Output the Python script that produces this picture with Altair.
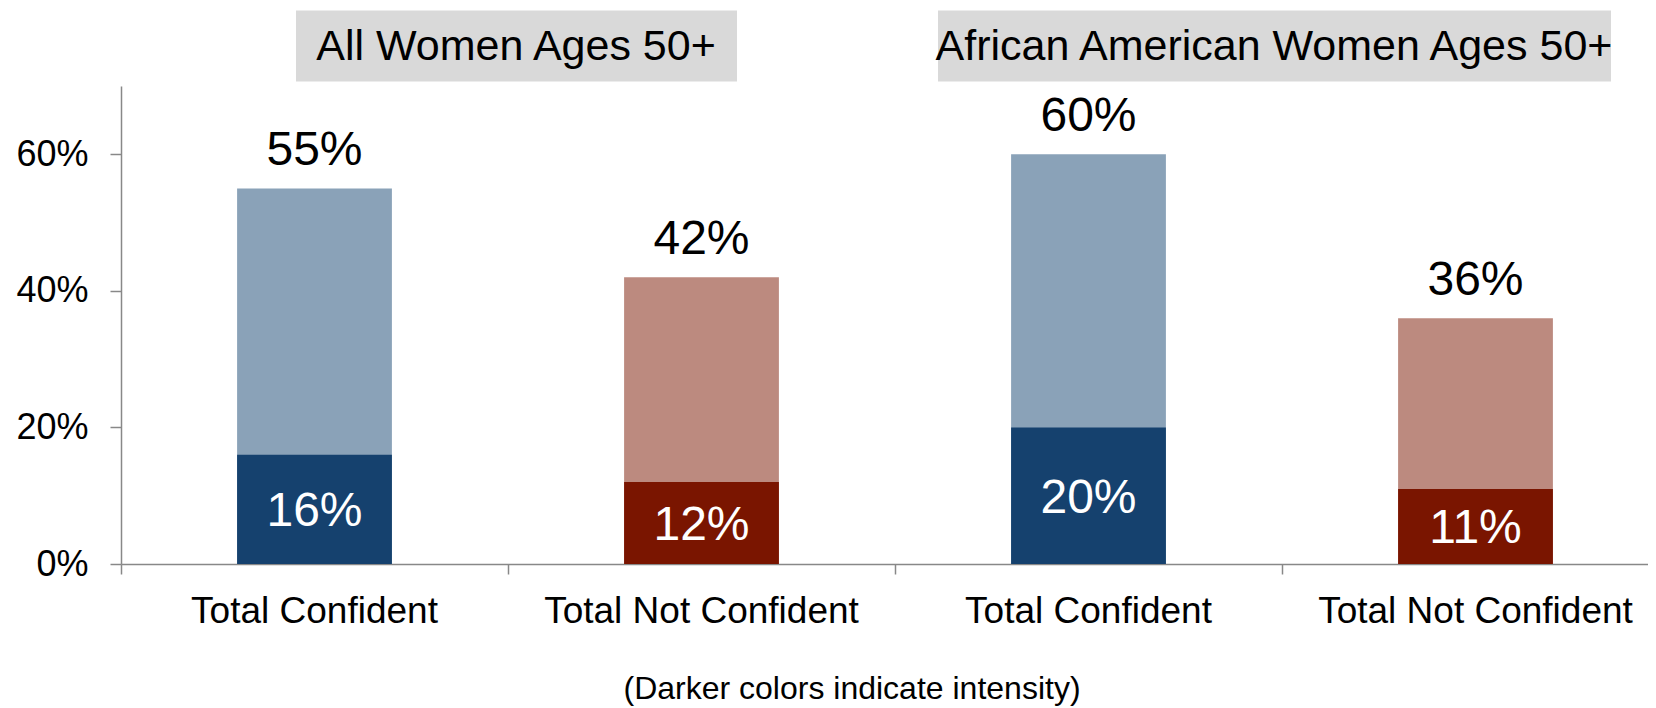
import altair as alt
import pandas as pd

# ---- data ----
groups = ["All Women Ages 50+", "African American Women Ages 50+"]
measures = ["Total Confident", "Total Not Confident"]
total_pct = [55, 42, 60, 36]
intense_pct = [16, 12, 20, 11]
y_ticks = [0, 20, 40, 60]
caption_text = ["(Darker colors indicate intensity)"]

rows = []
i = 0
for g in groups:
    for m in measures:
        rows.append({"key": f"{g}|{m}", "group": g, "measure": m,
                     "total": total_pct[i], "intense": intense_pct[i]})
        i += 1
df = pd.DataFrame(rows)
keys = list(df["key"])

# ---- styling / layout ----
FONT = "Liberation Sans"
AX = "#888888"
LIGHT = ["#8AA2B8", "#BC8A7F"]
DARK = ["#15416E", "#7A1500"]
W, H = 1527, 478
STEP = 387
PAD = {"left": 113, "top": 78, "right": 0, "bottom": 144}

xscale = alt.Scale(domain=keys, range=[0, STEP * len(keys)], paddingInner=0, paddingOuter=0)
yscale = alt.Scale(domain=[0, 70], nice=False)

base = alt.Chart(df)

light = base.mark_bar(width=alt.RelativeBandSize(0.4)).encode(
    x=alt.X("key:N", scale=xscale, sort=keys, title=None,
            axis=alt.Axis(orient="bottom", labels=False, bandPosition=0, ticks=True,
                          tickSize=10, tickColor=AX, tickWidth=1.5,
                          domainColor=AX, domainWidth=1.5, grid=False)),
    y=alt.Y("total:Q", scale=yscale, title=None,
            axis=alt.Axis(values=y_ticks, labelExpr="datum.value + '%'",
                          labelFont=FONT, labelFontSize=36, labelColor="black",
                          labelPadding=22, tickSize=11, tickColor=AX, tickWidth=1.5,
                          domainColor=AX, domainWidth=1.5, grid=False)),
    color=alt.Color("measure:N", scale=alt.Scale(domain=measures, range=LIGHT), legend=None),
)

dark = base.mark_bar(width=alt.RelativeBandSize(0.4)).encode(
    x=alt.X("key:N", scale=xscale, sort=keys, title=None,
            axis=alt.Axis(orient="bottom", ticks=False, domain=False,
                          labelExpr="split(datum.value, '|')[1]", labelAngle=0,
                          labelFont=FONT, labelFontSize=37, labelColor="black",
                          labelPadding=29, labelLimit=500, grid=False)),
    y=alt.Y("intense:Q", scale=yscale, title=None),
    color=alt.Color("measure:N", scale=alt.Scale(domain=measures, range=DARK), legend=None),
)

total_labels = base.transform_calculate(lbl="datum.total + '%'").mark_text(
    font=FONT, fontSize=48, color="black", baseline="alphabetic", dy=-23
).encode(
    x=alt.X("key:N", scale=xscale, sort=keys, axis=None),
    y=alt.Y("total:Q", scale=yscale, title=None),
    text="lbl:N",
)

inner_labels = base.transform_calculate(
    lbl="datum.intense + '%'", mid="datum.intense / 2"
).mark_text(
    font=FONT, fontSize=48, color="white", baseline="middle", dy=3
).encode(
    x=alt.X("key:N", scale=xscale, sort=keys, axis=None),
    y=alt.Y("mid:Q", scale=yscale, title=None),
    text="lbl:N",
)

# group header boxes (decoration above plot area)
BOXES = [(175, 616, 395), (817, 1490, 1153)]
headers = []
for g, (x0, x1, xc) in zip(groups, BOXES):
    hd = alt.Chart(pd.DataFrame({"t": [g]}))
    headers.append(hd.mark_rect(color="#D9D9D9").encode(
        x=alt.value(x0), x2=alt.value(x1), y=alt.value(-75.5), y2=alt.value(-4.5)))
    headers.append(hd.mark_text(font=FONT, fontSize=43, color="black", baseline="middle").encode(
        x=alt.value(xc), y=alt.value(-39), text="t:N"))

caption = alt.Chart(pd.DataFrame({"c": caption_text})).mark_text(
    font=FONT, fontSize=32, color="black", baseline="alphabetic"
).encode(x=alt.value(731), y=alt.value(613), text="c:N")

chart = alt.layer(light, dark, total_labels, inner_labels, *headers, caption).resolve_scale(
    color="independent"
).resolve_axis(x="independent").properties(
    width=W, height=H,
    autosize=alt.AutoSizeParams(type="none"),
    padding=PAD,
).configure_view(stroke=None).configure_axis(grid=False)

chart.save("out.html", embed_options={"renderer": "svg", "actions": False})
